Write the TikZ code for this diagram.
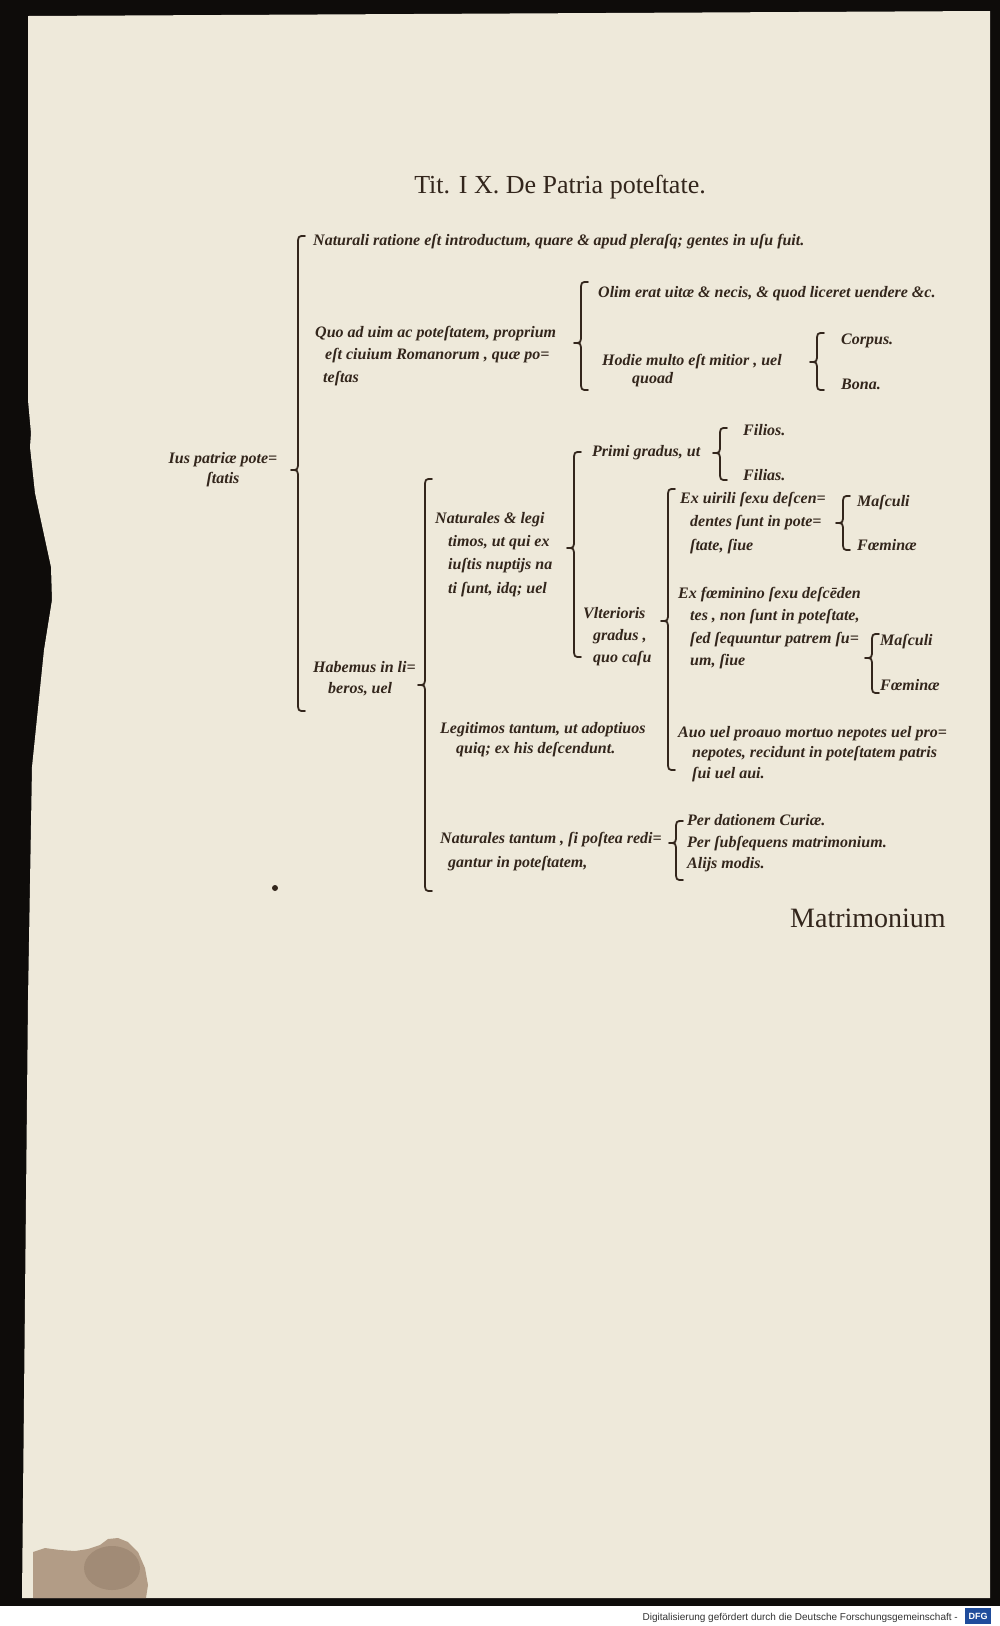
\documentclass[tikz,border=0pt]{standalone}
\usepackage{fontspec}
\setmainfont{Liberation Serif}
\newfontfamily\footfont{Liberation Sans}

\definecolor{paper}{HTML}{EEE9DA}
\definecolor{ink}{HTML}{33261C}
\definecolor{scanblack}{HTML}{0E0C0A}
\definecolor{stain}{HTML}{8A6A4E}
\definecolor{dfgblue}{HTML}{1F4C9C}

\tikzset{
  txt/.style={inner sep=0pt, anchor=north west, align=left, text=ink, font=\fontsize{16}{#1}\selectfont\bfseries\itshape},
  txt/.default=22,
  curlyline/.style={draw=ink, line width=1.8pt, line cap=round, line join=round},
}
% curly bracket: x, top, tip, bottom
\newcommand{\curly}[4]{\draw[curlyline] (#1+7,#2) .. controls (#1,#2) .. (#1,#2+9) -- (#1,#3-9) .. controls (#1,#3) .. (#1-7,#3) .. controls (#1,#3) .. (#1,#3+9) -- (#1,#4-9) .. controls (#1,#4) .. (#1+7,#4);}

\begin{document}
\begin{tikzpicture}[x=1pt, y=-1pt]
    	\useasboundingbox (0,0) rectangle (1000,1626);
    	% Page and scan:
    	\fill[scanblack] (0,0) rectangle (1000,1606);
    	\fill[white] (0,1606) rectangle (1000,1626);
    	\fill[paper] (28,16) -- (990,11) -- (990,1598) -- (22,1598) -- (28,1000) -- (32,767) -- (44,650) -- (52,600) -- (51,567) -- (35,493) -- (30,447) -- (31,433) -- (28,400) -- cycle;
    	\fill[stain, opacity=0.6] (33,1552) -- (45,1548) -- (60,1550) -- (75,1551) -- (88,1549) -- (100,1545) -- (108,1539) -- (118,1538) -- (128,1542) -- (138,1552) -- (145,1568) -- (148,1585) -- (146,1598) -- (33,1598) -- cycle;
    	\fill[stain!70!black, opacity=0.2] (112,1568) ellipse (28 and 22);
    	\node[anchor=base east, inner sep=0pt, font=\footfont\fontsize{10}{12}\selectfont, text=black!80] (scan) at (958,1620) {Digitalisierung gefördert durch die Deutsche Forschungsgemeinschaft -};
    	\node[fill=dfgblue, text=white, font=\footfont\bfseries\fontsize{9}{10}\selectfont, inner sep=2pt, minimum width=26pt, minimum height=16pt] (dfg) at (978,1616) {DFG};
    	% Title and catchword:
    	\node[anchor=base, inner sep=0pt, text=ink, font=\fontsize{26}{28}\selectfont] (title) at (560,193) {Tit. I X. De Patria poteſtate.};
    	\node[anchor=base west, inner sep=0pt, text=ink, font=\fontsize{28}{30}\selectfont] (catch) at (790,927) {Matrimonium};
    	\fill[ink] (275,888) circle (3);
    	% First level:
    	\node[txt=20, anchor=north, align=center] (ius) at (223,452) {Ius patriæ pote=\\ ſtatis};
    	\curly{298}{236}{470}{711}
    	\node[txt] (natratio) at (313,234) {Naturali ratione eſt introductum, quare \& apud pleraſq; gentes in uſu fuit.};
    	\node[txt=22.5] (quoad) at (315,326) {Quo ad uim ac poteſtatem, proprium\\ \hspace*{10pt}eſt ciuium Romanorum , quæ po=\\ \hspace*{8pt}teſtas};
    	\node[txt=21] (habemus) at (313,661) {Habemus in li=\\ \hspace*{15pt}beros, uel};
    	% Quo ad uim:
    	\curly{581}{282}{343}{390}
    	\node[txt] (olim) at (598,286) {Olim erat uitæ \& necis, \& quod liceret uendere \&c.};
    	\node[txt=18] (hodie) at (602,354) {Hodie multo eſt mitior , uel\\ \hspace*{30pt}quoad};
    	\curly{817}{333}{362}{390}
    	\node[txt] (corpus) at (841,334) {Corpus.};
    	\node[txt] (bona) at (841,379) {Bona.};
    	% Habemus in liberos:
    	\curly{425}{479}{685}{891}
    	\node[txt=23.3] (naturales) at (435,512) {Naturales \& legi\\ \hspace*{13pt}timos, ut qui ex\\ \hspace*{13pt}iuſtis nuptijs na\\ \hspace*{13pt}ti ſunt, idq; uel};
    	\node[txt=20] (legitimos) at (440,722) {Legitimos tantum, ut adoptiuos\\ \hspace*{16pt}quiq; ex his deſcendunt.};
    	\node[txt=24] (nattantum) at (440,832) {Naturales tantum , ſi poſtea redi=\\ \hspace*{8pt}gantur in poteſtatem,};
    	\curly{676}{821}{843}{880}
    	\node[txt] (dation) at (687,814) {Per dationem Curiæ.};
    	\node[txt] (subseq) at (687,836) {Per ſubſequens matrimonium.};
    	\node[txt] (alijs) at (687,857) {Alijs modis.};
    	% Naturales et legitimos:
    	\curly{574}{452}{548}{657}
    	\node[txt] (primi) at (592,445) {Primi gradus, ut};
    	\curly{720}{428}{453}{480}
    	\node[txt] (filios) at (743,424) {Filios.};
    	\node[txt] (filias) at (743,469) {Filias.};
    	\node[txt] (ulterior) at (583,607) {Vlterioris\\ \hspace*{10pt}gradus ,\\ \hspace*{10pt}quo caſu};
    	% Ulterioris gradus:
    	\curly{668}{489}{621}{770}
    	\node[txt=23.5] (uirili) at (680,492) {Ex uirili ſexu deſcen=\\ \hspace*{10pt}dentes ſunt in pote=\\ \hspace*{10pt}ſtate, ſiue};
    	\curly{843}{496}{523}{550}
    	\node[txt] (masc1) at (857,495) {Maſculi};
    	\node[txt] (foem1) at (857,539) {Fœminæ};
    	\node[txt=22.3] (foemin) at (678,587) {Ex fœminino ſexu deſcēden\\ \hspace*{12pt}tes , non ſunt in poteſtate,\\ \hspace*{12pt}ſed ſequuntur patrem ſu=\\ \hspace*{12pt}um, ſiue};
    	\curly{872}{634}{658}{693}
    	\node[txt] (masc2) at (880,634) {Maſculi};
    	\node[txt] (foem2) at (880,679) {Fœminæ};
    	\node[txt=20.5] (auo) at (678,726) {Auo uel proauo mortuo nepotes uel pro=\\ \hspace*{14pt}nepotes, recidunt in poteſtatem patris\\ \hspace*{14pt}ſui uel aui.};
    \end{tikzpicture}
\end{document}
